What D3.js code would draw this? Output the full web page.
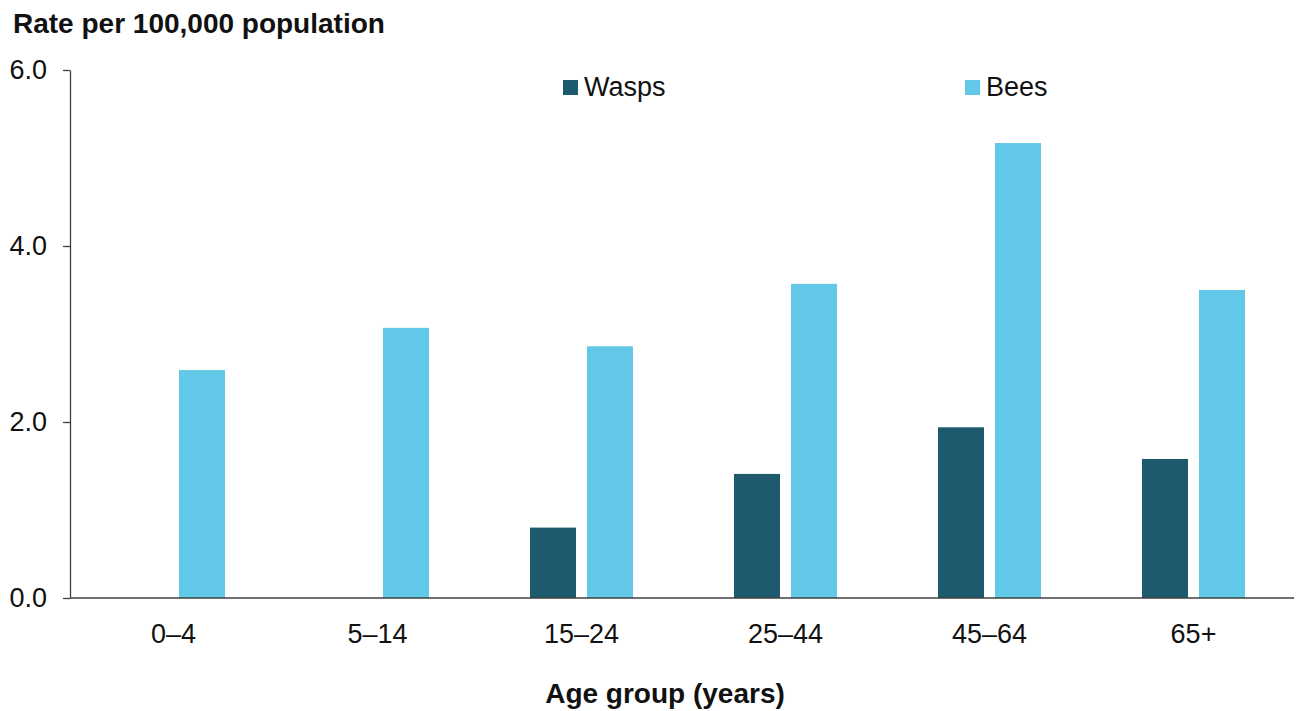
<!DOCTYPE html>
<html>
<head>
<meta charset="utf-8">
<script src="https://cdn.jsdelivr.net/npm/d3@7"></script>
<style>
  html, body { margin: 0; padding: 0; background: #fff; }
  svg { display: block; font-family: "Liberation Sans", Arial, sans-serif; }
</style>
</head>
<body>
<svg id="chart" width="1298" height="711"></svg>
<script>
// Rate of hospitalised insect stings per 100,000 population, by age group
const ageGroups = ["0–4", "5–14", "15–24", "25–44", "45–64", "65+"];
const seriesNames = ["Wasps", "Bees"];
const waspRates = [0, 0, 0.80, 1.41, 1.94, 1.58];
const beeRates = [2.59, 3.07, 2.86, 3.57, 5.17, 3.50];
const yTickValues = [0, 2, 4, 6];
const seriesColors = ["#1d5a6e", "#62c8e7"];

const svg = d3.select("#chart");
const margin = { left: 70, right: 4, top: 70, bottom: 113 };
const width = 1298, height = 711;
const baseY = height - margin.bottom;

const rows = ageGroups.map((g, i) => ({ group: g, Wasps: waspRates[i], Bees: beeRates[i] }));

const x0 = d3.scaleBand().domain(ageGroups).range([margin.left + 1.5, width - margin.right + 1.5]).padding(0);
const x1 = d3.scaleBand().domain(seriesNames).range([0, x0.bandwidth()])
  .paddingInner(0.193).paddingOuter(0.886);
const y = d3.scaleLinear().domain([0, 6]).range([baseY, margin.top]);
const color = d3.scaleOrdinal().domain(seriesNames).range(seriesColors);

// bars
const groups = svg.append("g").selectAll("g").data(rows).join("g")
  .attr("transform", d => `translate(${x0(d.group)},0)`);
groups.selectAll("rect")
  .data(d => seriesNames.map(s => ({ key: s, value: d[s] })))
  .join("rect")
  .attr("x", d => x1(d.key))
  .attr("width", x1.bandwidth())
  .attr("y", d => y(d.value))
  .attr("height", d => baseY - y(d.value))
  .attr("fill", d => color(d.key));

// y axis
const yAxis = svg.append("g")
  .attr("transform", `translate(${margin.left},0)`)
  .call(d3.axisLeft(y).tickValues(yTickValues).tickFormat(d3.format(".1f"))
    .tickSize(7).tickSizeOuter(0).tickPadding(16));
yAxis.select(".domain").attr("stroke", "#404040").attr("stroke-width", 1.3);
yAxis.selectAll(".tick line").attr("stroke", "#404040").attr("stroke-width", 1.3);
yAxis.selectAll(".tick text").attr("font-size", 27).attr("fill", "#111")
  .attr("font-family", "Liberation Sans, Arial, sans-serif");

// x axis (baseline drawn from the y axis to the right edge)
const xAxis = svg.append("g")
  .attr("transform", `translate(0,${baseY})`)
  .call(d3.axisBottom(x0).tickSize(0).tickPadding(26));
xAxis.select(".domain").attr("d", `M${margin.left},0H${width - margin.right}`)
  .attr("stroke", "#404040").attr("stroke-width", 1.6);
xAxis.selectAll(".tick text").attr("font-size", 27).attr("fill", "#111")
  .attr("font-family", "Liberation Sans, Arial, sans-serif");

// axis titles
svg.append("text")
  .attr("x", 13).attr("y", 33)
  .attr("font-size", 28).attr("font-weight", "bold").attr("fill", "#111")
  .text("Rate per 100,000 population");
svg.append("text")
  .attr("x", 665).attr("y", 703)
  .attr("text-anchor", "middle")
  .attr("font-size", 28).attr("font-weight", "bold").attr("fill", "#111")
  .text("Age group (years)");

// legend
const legendX = [563, 965];
const legend = svg.append("g").selectAll("g").data(seriesNames).join("g")
  .attr("transform", (d, i) => `translate(${legendX[i]},80)`);
legend.append("rect").attr("width", 15).attr("height", 15).attr("fill", d => color(d));
legend.append("text").attr("x", 21).attr("y", 15.5)
  .attr("font-size", 27).attr("fill", "#111").text(d => d);
</script>
</body>
</html>
